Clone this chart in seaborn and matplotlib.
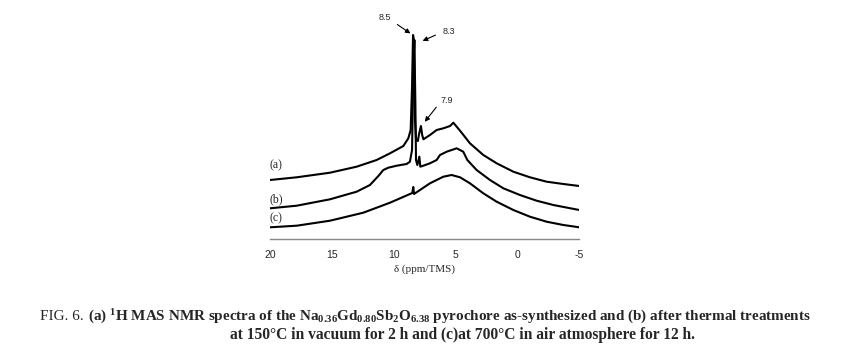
import matplotlib
matplotlib.use("Agg")
import matplotlib.pyplot as plt
from matplotlib.ticker import MultipleLocator
import seaborn as sns
import pandas as pd

# spectrum (a): as-synthesized
ppm_a = [20.0, 17.84, 15.15, 13.0, 11.38, 10.30, 9.22, 8.82, 8.63, 8.52, 8.44, 8.36, 8.28,
         8.20, 8.05, 7.95, 7.80, 7.70, 7.60, 7.07, 6.53, 5.99, 5.45, 5.18, 4.91, 4.51,
         3.84, 2.76, 1.68, 0.33, -1.01, -2.36, -3.71, -5.0]
int_a = [59, 61.7, 66.3, 72.3, 79, 85.7, 93, 100.7, 109, 152, 204, 199, 119,
         100, 98, 105, 113, 104, 99.7, 104, 109, 110.7, 113, 116.3, 112.3, 106.3,
         95.7, 84, 75.7, 67.3, 61.7, 57.3, 55, 53]

# spectrum (b): 150 C vacuum
ppm_b = [20.0, 17.84, 15.15, 13.0, 11.92, 11.24, 10.84, 10.44, 9.76, 8.96, 8.69, 8.52, 8.41,
         8.33, 8.25, 8.20, 8.09, 7.93, 7.85, 7.61, 7.07, 6.53, 6.26, 5.72, 4.91, 4.38,
         4.05, 3.30, 2.22, 1.14, -0.20, -1.55, -2.90, -5.0]
int_b = [30.7, 33.3, 39.7, 47.3, 54, 63, 69, 71.3, 73.3, 75, 77.3, 89, 169,
         199, 135.7, 79, 74, 82.3, 72.3, 73.3, 75.7, 79, 84, 87.3, 90.7, 87.3,
         79, 69, 59, 50.7, 44, 38.3, 34, 29]

# spectrum (c): 700 C air
ppm_c = [20.0, 17.84, 15.15, 12.46, 10.30, 8.50, 8.42, 8.36, 7.07, 5.99, 5.32, 4.64,
         3.84, 2.76, 1.68, 0.33, -1.01, -2.36, -3.71, -5.0]
int_c = [11.7, 13.3, 18.3, 26.3, 36.3, 46, 52, 45, 55.7, 62.3, 64, 61.7,
         55.7, 45.7, 37.3, 29, 22.3, 17.3, 14, 11.7]

trace_names = ["(a)", "(b)", "(c)"]

df = pd.concat([
    pd.DataFrame({"ppm": ppm_a, "intensity": int_a, "trace": "(a)"}),
    pd.DataFrame({"ppm": ppm_b, "intensity": int_b, "trace": "(b)"}),
    pd.DataFrame({"ppm": ppm_c, "intensity": int_c, "trace": "(c)"}),
])

sns.set_style("white")
plt.rcParams["mathtext.fontset"] = "custom"
plt.rcParams["mathtext.rm"] = "Liberation Serif:bold"
plt.rcParams["mathtext.it"] = "Liberation Serif:bold"
plt.rcParams["mathtext.bf"] = "Liberation Serif:bold"

fig = plt.figure(figsize=(8.42, 3.54), dpi=100)
ax = fig.add_axes([270 / 842, 115 / 354, 309.3 / 842, 239 / 354])

sns.lineplot(data=df, x="ppm", y="intensity", units="trace", estimator=None,
             color="black", linewidth=1.5, sort=False, ax=ax)

ax.set_xlim(20, -5)
ax.set_ylim(0, 239)
for s in ["top", "left", "right"]:
    ax.spines[s].set_visible(False)
ax.spines["bottom"].set_color("#888888")
ax.spines["bottom"].set_linewidth(1.0)
ax.set_yticks([])
ax.set_ylabel("")
ax.xaxis.set_major_locator(MultipleLocator(5))
ax.xaxis.set_minor_locator(MultipleLocator(1.25))
ax.tick_params(axis="x", which="major", direction="in", length=4, width=1,
               color="#888888", pad=8, labelsize=7.5)
ax.tick_params(axis="x", which="minor", direction="in", length=3, width=1,
               color="#888888")
ax.set_xticks([20, 15, 10, 5, 0, -5])
ax.set_xticklabels(["20", "15", "10", "5", "0", "-5"], family="Liberation Sans")
ax.set_xlabel("δ (ppm/TMS)", family="Liberation Serif", fontsize=8, labelpad=3)

# trace labels
label_y = [74, 40, 21]
for name, yy in zip(trace_names, label_y):
    ax.text(20.05, yy, name, family="Liberation Serif", fontsize=8.5,
            ha="left", va="center")

# peak annotations
arrow = dict(arrowstyle="-|>", color="black", lw=0.8, mutation_scale=7)
ax.annotate("", xy=(8.46, 204), xytext=(9.89, 216), arrowprops=arrow, annotation_clip=False)
ax.text(10.75, 222, "8.5", family="Liberation Sans", fontsize=6.5, ha="center",
        va="center", clip_on=False)
ax.annotate("", xy=(7.87, 197), xytext=(6.42, 205), arrowprops=arrow, annotation_clip=False)
ax.text(5.53, 208, "8.3", family="Liberation Sans", fontsize=6.5, ha="center", va="center")
ax.annotate("", xy=(7.63, 115), xytext=(6.42, 134), arrowprops=arrow, annotation_clip=False)
ax.text(5.69, 139, "7.9", family="Liberation Sans", fontsize=6.5, ha="center", va="center")

# caption
fig.text(40 / 842, 1 - 317 / 354, "FIG. 6.", family="Liberation Serif", fontsize=11,
         ha="left", va="center")
fig.text(88 / 842, 1 - 317 / 354,
         r"(a) $^{1}$H MAS NMR spectra of the Na$_{0.36}$Gd$_{0.80}$Sb$_{2}$O$_{6.38}$ "
         "pyrochore as-synthesized and (b) after thermal treatments",
         family="Liberation Serif", fontweight="bold", fontsize=10.9, ha="left", va="center")
fig.text(230 / 842, 1 - 335 / 354,
         "at 150°C in vacuum for 2 h and (c)at 700°C in air atmosphere for 12 h.",
         family="Liberation Serif", fontweight="bold", fontsize=11.2, ha="left", va="center")

fig.savefig("out.png", dpi=100)
